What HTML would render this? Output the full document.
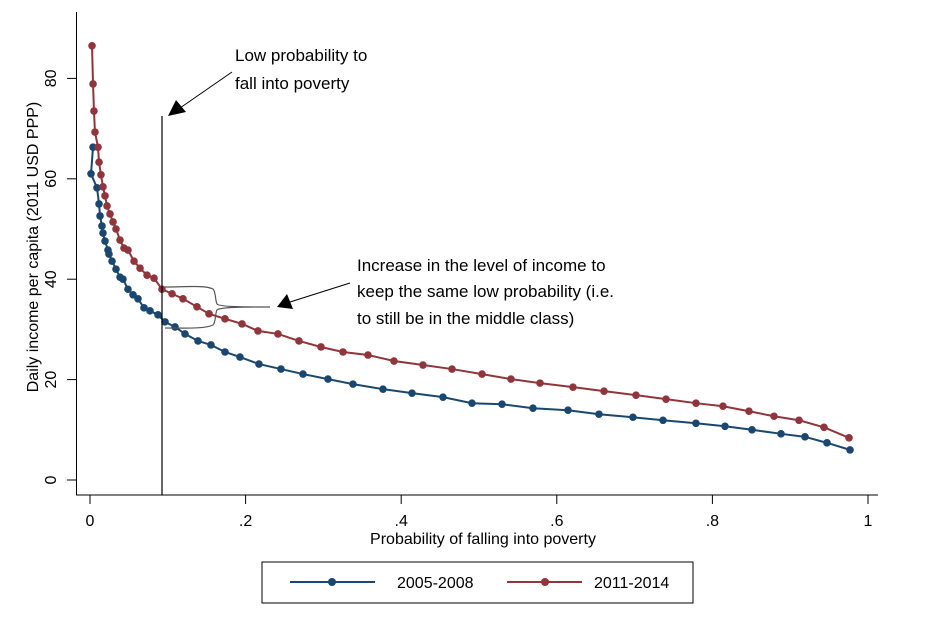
<!DOCTYPE html>
<html><head><meta charset="utf-8"><style>
body{margin:0;background:#fff;}
svg{display:block;font-family:"Liberation Sans",sans-serif;}
</style></head><body>
<svg id="chart" width="941" height="617">
<g id="axes"></g>
<g id="series"></g>
<g>
<line x1="162" y1="116" x2="162" y2="495" stroke="#000" stroke-width="1.2"/>
<line x1="232" y1="72" x2="180" y2="108" stroke="#000" stroke-width="1"/>
<polygon points="168,116 176,100 186,112" fill="#000"/>
<text x="235" y="61" font-size="17" fill="#000">Low probability to</text>
<text x="235" y="89" font-size="17" fill="#000">fall into poverty</text>
</g>
<g>
<path d="M165,287 C185,287 205,285 213,289 C216,292 215,300 217,304 C220,307 245,307 270,307 C245,307 220,307 217,310 C215,314 216,322 213,325 C205,329 185,328 165,328" fill="none" stroke="#555" stroke-width="1.2"/>
<line x1="350" y1="283" x2="290" y2="302" stroke="#000" stroke-width="1"/>
<polygon points="277,307 287,294 293,309" fill="#000"/>
<text x="357" y="271" font-size="17" fill="#000">Increase in the level of income to</text>
<text x="357" y="297" font-size="17" fill="#000">keep the same low probability (i.e.</text>
<text x="357" y="324" font-size="17" fill="#000">to still be in the middle class)</text>
</g>
<g>
<rect x="262" y="562" width="431" height="41" fill="#fff" stroke="#000" stroke-width="1"/>
<g>
<line x1="290" y1="582" x2="375" y2="582" stroke="#1a476f" stroke-width="2"/>
<circle cx="332" cy="582" r="4" fill="#1a476f"/>
<text x="397" y="588" font-size="16">2005-2008</text>
</g>
<g>
<line x1="507" y1="582" x2="582" y2="582" stroke="#90353b" stroke-width="2"/>
<circle cx="545" cy="582" r="4" fill="#90353b"/>
<text x="594" y="588" font-size="16">2011-2014</text>
</g>
</g>
</svg>
<script>
const xTicks=[0,0.2,0.4,0.6,0.8,1];
const xTickLabels=["0",".2",".4",".6",".8","1"];
const yTicks=[0,20,40,60,80];
const yTickLabels=["0","20","40","60","80"];
const blueX=[.0039,.0013,.0090,.0116,.0129,.0154,.0167,.0193,.0231,.0244,.0283,.0334,.0386,.0424,.0488,.0553,.0617,.0694,.0771,.0874,.0964,.1093,.1221,.1388,.1555,.1735,.1928,.2172,.2455,.2738,.3059,.3380,.3766,.4139,.4537,.4910,.5296,.5694,.6144,.6542,.6979,.7365,.7789,.8162,.8509,.8882,.9190,.9473,.9769];
const blueY=[66.3,61.0,58.2,55.0,52.6,50.6,49.2,47.6,45.8,45.0,43.6,42.0,40.4,40.0,38.0,36.9,36.1,34.3,33.7,32.9,31.5,30.5,29.1,27.7,26.9,25.5,24.5,23.1,22.1,21.1,20.1,19.1,18.1,17.3,16.5,15.3,15.1,14.3,13.9,13.1,12.5,11.9,11.3,10.7,10.0,9.2,8.6,7.4,6.0];
const redX=[.0026,.0039,.0051,.0064,.0103,.0116,.0141,.0167,.0193,.0219,.0257,.0296,.0334,.0386,.0437,.0488,.0566,.0643,.0733,.0823,.0925,.1054,.1195,.1375,.1530,.1735,.1954,.2159,.2416,.2686,.2969,.3252,.3573,.3907,.4280,.4653,.5039,.5411,.5784,.6208,.6607,.7018,.7404,.7789,.8136,.8470,.8792,.9113,.9434,.9756];
const redY=[86.5,78.9,73.5,69.3,66.3,63.3,60.8,58.4,56.6,54.6,53.0,51.4,50.0,47.8,46.2,45.8,43.6,42.2,40.8,40.2,38.0,37.1,36.1,34.5,33.1,32.1,31.1,29.7,29.1,27.7,26.5,25.5,24.9,23.7,22.9,22.1,21.1,20.1,19.3,18.5,17.7,16.9,16.1,15.3,14.7,13.7,12.7,11.9,10.5,8.4];
const NS="http://www.w3.org/2000/svg";
function sx(v){return 90+v*778;}
function sy(v){return 480-v*5.02;}
function mk(tag,attrs,parent){const e=document.createElementNS(NS,tag);for(const k in attrs)e.setAttribute(k,attrs[k]);parent.appendChild(e);return e;}
const axes=document.getElementById('axes');
let l=mk('line',{x1:76.5,y1:12,x2:76.5,y2:495,stroke:'#000','stroke-width':1},axes);


l=mk('line',{x1:76,y1:495,x2:878,y2:495,stroke:'#000','stroke-width':1},axes);


yTicks.forEach((v,i)=>{
 const y=sy(v);
 const t=mk('line',{x1:67,y1:y,x2:76,y2:y,stroke:'#000'},axes);
 
 
 const tx=mk('text',{x:0,y:0,'font-size':16,'text-anchor':'middle',transform:`translate(56,${y}) rotate(-90)`},axes);
 tx.textContent=yTickLabels[i];
 
 
});
xTicks.forEach((v,i)=>{
 const x=sx(v);
 const t=mk('line',{x1:x,y1:495,x2:x,y2:504,stroke:'#000'},axes);
 
 
 const tx=mk('text',{x:x,y:526,'font-size':16,'text-anchor':'middle'},axes);
 tx.textContent=xTickLabels[i];
 
 
});
let at=mk('text',{x:483,y:544,'font-size':16,'text-anchor':'middle'},axes);
at.textContent='Probability of falling into poverty';


at=mk('text',{x:0,y:0,'font-size':16,'text-anchor':'middle',transform:'translate(38,247) rotate(-90)'},axes);
at.textContent='Daily income per capita (2011 USD PPP)';


const ser=document.getElementById('series');
function drawSeries(xs,ys,color,name){
 const pts=xs.map((x,i)=>sx(x)+','+sy(ys[i])).join(' ');
 const pl=mk('polyline',{points:pts,fill:'none',stroke:color,'stroke-width':2},ser);
 
 
 xs.forEach((x,i)=>{
  const c=mk('circle',{cx:sx(x),cy:sy(ys[i]),r:3.8,fill:color},ser);
  
  
 });
}
drawSeries(blueX,blueY,'#1a476f','series-2005-2008');
drawSeries(redX,redY,'#90353b','series-2011-2014');
</script>
</body></html>
